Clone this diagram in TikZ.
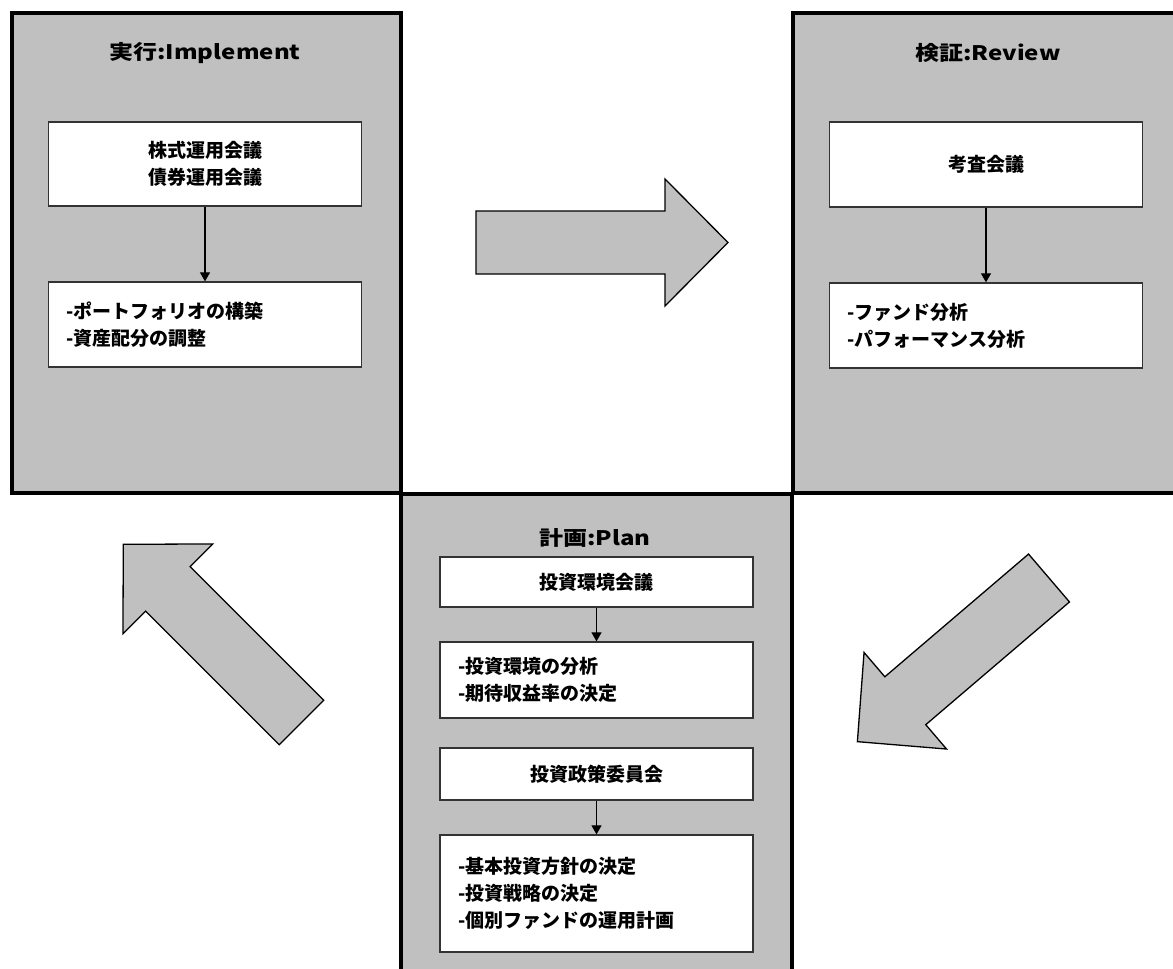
\documentclass[tikz,border=0pt]{standalone}
\usepackage{fontspec}
\newfontfamily\jp{Noto Sans CJK JP}
\usetikzlibrary{arrows.meta}
\definecolor{panelgray}{HTML}{C0C0C0}
\begin{document}
\begin{tikzpicture}[x=1pt,y=-1pt,
  panel/.style={draw=black, line width=4pt, fill=panelgray},
  titletext/.style={font=\jp\bfseries\fontsize{20}{24}\selectfont, inner sep=0pt},
  cbox/.style={draw=black!80, line width=1.3pt, fill=white, minimum width=313pt, inner sep=0pt, align=center, font=\jp\bfseries\fontsize{19}{27}\selectfont},
  lbox/.style={draw=black!80, line width=1.3pt, fill=white, minimum width=313pt, inner xsep=18pt, inner ysep=0pt, text width=277pt, align=left, font=\jp\bfseries\fontsize{19}{27}\selectfont},
  conn/.style={draw=black, line width=1.2pt, -{Triangle[length=9pt,width=10pt]}},
  bigarrow/.style={draw=black, line width=1.3pt, fill=panelgray, line join=miter}]
\useasboundingbox (0,0) rectangle (1173,969);
% panels
\draw[panel] (12,13) rectangle (401,493);
\draw[panel] (793,13) rectangle (1190,493);
\draw[panel] (401,494) rectangle (792,990);
% Implement
\node[titletext] (ti) at (205,53) {\scalebox{1.2}[1]{実行:Implement}};
\node[cbox, minimum height=84pt] (i1) at (205,164) {株式運用会議\\債券運用会議};
\node[lbox, minimum height=85pt] (i2) at (205,324.5) {-ポートフォリオの構築\\-資産配分の調整};
\draw[conn] (i1) -- (i2);
% Review
\node[titletext] (tr) at (988,53) {\scalebox{1.2}[1]{検証:Review}};
\node[cbox, minimum height=85pt] (r1) at (986,164.5) {考査会議};
\node[lbox, minimum height=85pt] (r2) at (986,325.5) {-ファンド分析\\-パフォーマンス分析};
\draw[conn] (r1) -- (r2);
% Plan
\node[titletext] (tp) at (595,538) {\scalebox{1.2}[1]{計画:Plan}};
\node[cbox, minimum height=50pt] (p1) at (596.5,582) {投資環境会議};
\node[lbox, minimum height=76pt] (p2) at (596.5,680) {-投資環境の分析\\-期待収益率の決定};
\node[cbox, minimum height=52pt] (p3) at (596.5,774) {投資政策委員会};
\node[lbox, minimum height=117pt] (p4) at (596.5,893.5) {-基本投資方針の決定\\-投資戦略の決定\\-個別ファンドの運用計画};
\draw[conn] (p1) -- (p2);
\draw[conn] (p3) -- (p4);
% big block arrows
\draw[bigarrow, shift={(476,242.5)}, rotate=0] (0,-31.5) -- (189,-31.5) -- (189,-63.5) -- (252,0) -- (189,63.5) -- (189,31.5) -- (0,31.5) -- cycle;
\draw[bigarrow, shift={(1049,578)}, rotate=220.5] (0,-31.5) -- (189,-31.5) -- (189,-63.5) -- (252,0) -- (189,63.5) -- (189,31.5) -- (0,31.5) -- cycle;
\draw[bigarrow, shift={(301.5,722.5)}, rotate=135] (0,-31.5) -- (189,-31.5) -- (189,-63.5) -- (252,0) -- (189,63.5) -- (189,31.5) -- (0,31.5) -- cycle;
\end{tikzpicture}
\end{document}
